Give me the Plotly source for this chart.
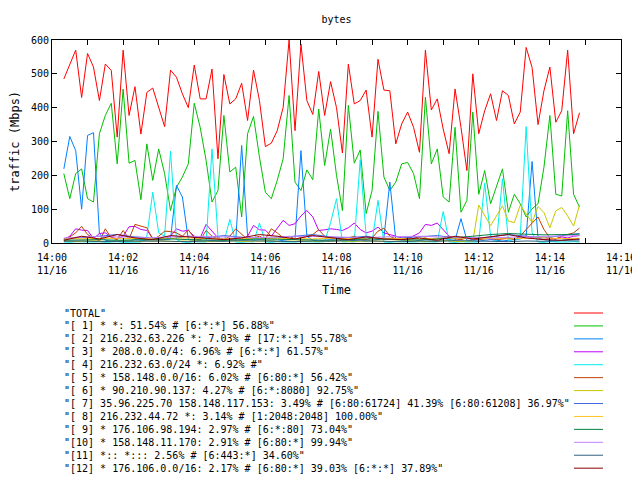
import plotly.graph_objects as go
import pandas as pd

# ---- data -------------------------------------------------------------
day = "2024-11-16"
start_fine = "14:00:20"      # first sample
step_fine_s = 10
step_coarse_s = 30

total = [485, 530, 570, 430, 560, 520, 421, 529, 510, 313, 570, 377, 462, 322, 445, 458,
         401, 344, 511, 490, 441, 400, 526, 426, 426, 514, 249, 498, 411, 426, 472, 362,
         511, 421, 285, 295, 332, 401, 600, 332, 588, 421, 380, 507, 377, 477, 400, 266,
         529, 411, 421, 452, 313, 543, 452, 450, 293, 352, 387, 342, 268, 570, 393, 426,
         337, 264, 455, 342, 214, 500, 323, 391, 441, 362, 450, 436, 352, 387, 578, 519,
         350, 450, 520, 357, 391, 570, 323, 385]
s1 = [205, 131, 205, 219, 131, 121, 323, 377, 413, 234, 455, 236, 244, 128, 293, 185,
      278, 205, 96, 165, 195, 234, 413, 342, 244, 121, 155, 377, 210, 224, 77, 323,
      374, 254, 150, 131, 185, 249, 436, 180, 155, 216, 187, 396, 229, 337, 200, 96,
      407, 236, 275, 87, 155, 389, 195, 155, 180, 234, 238, 205, 131, 431, 234, 278,
      136, 121, 342, 91, 126, 387, 144, 214, 116, 165, 219, 91, 144, 116, 77, 101,
      116, 224, 377, 144, 139, 391, 144, 106]
s2 = [219, 315, 273, 100, 318, 326, 28, 8, 6, 5, 8, 6, 10, 8, 6, 5,
      7, 10, 12, 170, 136, 10, 8, 6, 5, 8, 6, 7, 10, 8, 288, 20,
      8, 10, 8, 6, 5, 8, 10, 12, 273, 20, 8, 6, 8, 10, 8, 6,
      5, 8, 10, 6, 8, 10, 15, 180, 10, 8, 6, 5, 8, 10, 8, 6,
      8, 10, 8, 72, 8, 6, 5, 8, 10, 8, 6, 8, 10, 12, 20, 241,
      15, 10, 8, 6, 8, 10, 12, 10]
s3 = [10, 20, 42, 38, 37, 13, 28, 30, 18, 12, 20, 48, 49, 40, 37, 15,
      10, 12, 20, 42, 35, 37, 20, 15, 55, 35, 15, 12, 10, 15, 12, 20,
      52, 39, 38, 20, 45, 67, 52, 57, 80, 96, 77, 37, 39, 42, 40, 37,
      45, 59, 40, 30, 35, 47, 30, 25, 18, 15, 12, 20, 30, 55, 52, 59,
      40, 20, 15, 12, 15, 10, 12, 15, 12, 10, 12, 15, 12, 18, 20, 15,
      12, 10, 15, 12, 18, 15, 20, 22]
s4 = [3, 2, 4, 3, 2, 3, 4, 2, 3, 4, 2, 3, 4, 3, 20, 150,
      30, 20, 271, 10, 3, 2, 4, 3, 3, 278, 20, 3, 70, 3, 2, 4,
      3, 59, 3, 2, 4, 3, 2, 3, 4, 3, 2, 3, 4, 60, 131, 3,
      4, 3, 246, 20, 3, 126, 3, 2, 4, 3, 2, 3, 4, 3, 2, 3,
      93, 3, 2, 4, 3, 2, 3, 177, 20, 3, 190, 10, 3, 20, 344, 30,
      3, 2, 4, 3, 2, 3, 4, 3]
s5 = [12, 18, 30, 49, 25, 15, 5, 42, 15, 10, 37, 12, 55, 50, 45, 10,
      20, 35, 34, 30, 20, 39, 15, 8, 37, 20, 12, 10, 20, 42, 25, 10,
      15, 20, 12, 42, 30, 15, 20, 12, 15, 20, 25, 39, 20, 15, 12, 10,
      15, 20, 12, 10, 15, 35, 44, 20, 12, 10, 15, 20, 12, 15, 10, 12,
      15, 20, 12, 10, 15, 12, 10, 12, 15, 10, 12, 15, 10, 20, 40, 60,
      77, 40, 15, 12, 20, 25, 30, 44]
s6 = [5, 6, 4, 5, 6, 7, 5, 4, 6, 5, 7, 6, 5, 4, 6, 5,
      7, 6, 5, 4, 6, 5, 7, 6, 5, 4, 6, 5, 7, 6, 5, 4,
      6, 5, 7, 6, 5, 4, 6, 5, 7, 6, 5, 4, 6, 5, 7, 6,
      5, 4, 6, 5, 7, 6, 5, 4, 6, 5, 7, 6, 5, 4, 6, 5,
      7, 6, 5, 4, 6, 5, 112, 80, 51, 80, 110, 65, 60, 112, 85, 61,
      108, 90, 45, 95, 105, 80, 50, 112]
s7 = [12, 15, 20, 25, 18, 15, 12, 20, 15, 22, 18, 12, 15, 20, 25,
      18, 15, 20, 12, 15, 18, 22, 15, 12, 18, 25, 20, 15, 22, 28]
s8 = [12, 13, 14, 14, 13, 12, 14, 15, 13, 12, 14, 15, 14, 13, 12,
      14, 13, 15, 14, 13, 12, 14, 15, 14, 13, 12, 14, 15, 13, 14]
s9 = [8, 9, 10, 8, 9, 10, 12, 10, 9, 8, 10, 12, 11, 10, 9,
      8, 10, 12, 11, 10, 9, 12, 15, 20, 25, 28, 26, 24, 25, 26]
s10 = [15, 18, 20, 18, 17, 16, 18, 20, 19, 18, 17, 16, 18, 20, 19,
       18, 17, 16, 18, 19, 20, 18, 17, 16, 15, 17, 18, 19, 20, 22]
s11 = [5, 6, 4, 5, 7, 6, 5, 4, 6, 5, 7, 6, 5, 4, 6,
       5, 7, 6, 5, 4, 6, 5, 7, 6, 5, 4, 6, 5, 7, 6]
s12 = [8, 20, 12, 25, 15, 10, 22, 18, 12, 10, 15, 25, 20, 12, 22,
       15, 10, 18, 12, 10, 15, 8, 20, 12, 18, 25, 15, 10, 8, 12]

labels = [
    '"TOTAL"',
    '"[ 1] * *: 51.54% # [6:*:*] 56.88%"',
    '"[ 2] 216.232.63.226 *: 7.03% # [17:*:*] 55.78%"',
    '"[ 3] * 208.0.0.0/4: 6.96% # [6:*:*] 61.57%"',
    '"[ 4] 216.232.63.0/24 *: 6.92% #"',
    '"[ 5] * 158.148.0.0/16: 6.02% # [6:80:*] 56.42%"',
    '"[ 6] * 90.210.90.137: 4.27% # [6:*:8080] 92.75%"',
    '"[ 7] 35.96.225.70 158.148.117.153: 3.49% # [6:80:61724] 41.39% [6:80:61208] 36.97%"',
    '"[ 8] 216.232.44.72 *: 3.14% # [1:2048:2048] 100.00%"',
    '"[ 9] * 176.106.98.194: 2.97% # [6:*:80] 73.04%"',
    '"[10] * 158.148.11.170: 2.91% # [6:80:*] 99.94%"',
    '"[11] *:: *::: 2.56% # [6:443:*] 34.60%"',
    '"[12] * 176.106.0.0/16: 2.17% # [6:80:*] 39.03% [6:*:*] 37.89%"',
]
colors = ["#ff0000", "#00c000", "#0080ff", "#c000ff", "#00eeee", "#c04000",
          "#c8c800", "#4169e1", "#ffc020", "#008040", "#c080ff", "#306080", "#8b0000"]

x_ticks = ["14:00", "14:01", "14:02", "14:03", "14:04", "14:05", "14:06", "14:07", "14:08",
           "14:09", "14:10", "14:11", "14:12", "14:13", "14:14", "14:15", "14:16"]
x_date_label = "11/16"

# ---- figure -----------------------------------------------------------
t0 = pd.Timestamp(f"{day} {start_fine}")
t_fine = [t0 + pd.Timedelta(seconds=step_fine_s * i) for i in range(len(total))]
t_coarse = [t0 + pd.Timedelta(seconds=step_coarse_s * i) for i in range(len(s7))]

series = [(t_fine, total), (t_fine, s1), (t_fine, s2), (t_fine, s3), (t_fine, s4),
          (t_fine, s5), (t_fine, s6), (t_coarse, s7), (t_coarse, s8), (t_coarse, s9),
          (t_coarse, s10), (t_coarse, s11), (t_coarse, s12)]

FONT = "DejaVu Sans Mono"
fig = go.Figure()
for (tx, vals), name, col in zip(series, labels, colors):
    fig.add_trace(go.Scatter(x=tx, y=vals, mode="lines", name=name,
                             line=dict(color=col, width=1), showlegend=False))

# the page body adds an 8px offset; the figure is sized so the plot lands where the reference has it
OFF = 8
W, H = 640 - OFF, 480 - OFF
L, T = 52 - OFF, 40 - OFF
R = W - (621 - OFF)
B = H - (243 - OFF)
pw, ph = W - L - R, H - T - B

def px_to_paper(xp, yp):
    # xp, yp are screen pixels
    return (xp - OFF - L) / pw, (H - B - (yp - OFF)) / ph

# custom gnuplot-style key: text on the left, line sample on the right
for i, (name, col) in enumerate(zip(labels, colors)):
    yrow = 313 + i * 12.93
    tx, ty = px_to_paper(62, yrow)
    fig.add_annotation(x=tx, y=ty, xref="paper", yref="paper", text=name,
                       showarrow=False, xanchor="left", yanchor="middle",
                       font=dict(family=FONT, size=10, color="black"))
    x0, y0 = px_to_paper(574, yrow)
    x1, _ = px_to_paper(603, yrow)
    fig.add_shape(type="line", xref="paper", yref="paper", x0=x0, x1=x1, y0=y0, y1=y0,
                  line=dict(color=col, width=1))

tickvals = [pd.Timestamp(f"{day} {s}") for s in x_ticks]
ticktext = [f"{s}<br>{x_date_label}" if i % 2 == 0 else "" for i, s in enumerate(x_ticks)]

fig.update_layout(
    width=W, height=H, margin=dict(l=L, r=R, t=T, b=B, pad=0, autoexpand=False),
    paper_bgcolor="white", plot_bgcolor="white",
    font=dict(family=FONT, size=10, color="black"),
    title=dict(text="bytes", x=(L + pw / 2) / W, xanchor="center", y=1 - (19 - OFF) / H,
               yanchor="middle", font=dict(family=FONT, size=10)),
    xaxis=dict(type="date", range=[tickvals[0], tickvals[-1]], tickmode="array",
               tickvals=tickvals, ticktext=ticktext, ticks="inside", ticklen=5,
               tickcolor="black", showline=True, linecolor="black", linewidth=1,
               mirror="allticks", showgrid=False, zeroline=False, ticklabelstandoff=5,
               ticklabeloverflow="allow",
               title=dict(text="Time", standoff=10)),
    yaxis=dict(range=[0, 600], dtick=100, ticks="inside", ticklen=5, tickcolor="black",
               showline=True, linecolor="black", linewidth=1, mirror="allticks",
               showgrid=False, zeroline=False,
               title=dict(text="traffic (Mbps)", standoff=12)),
    showlegend=False,
)

fig.write_html("out.html")
